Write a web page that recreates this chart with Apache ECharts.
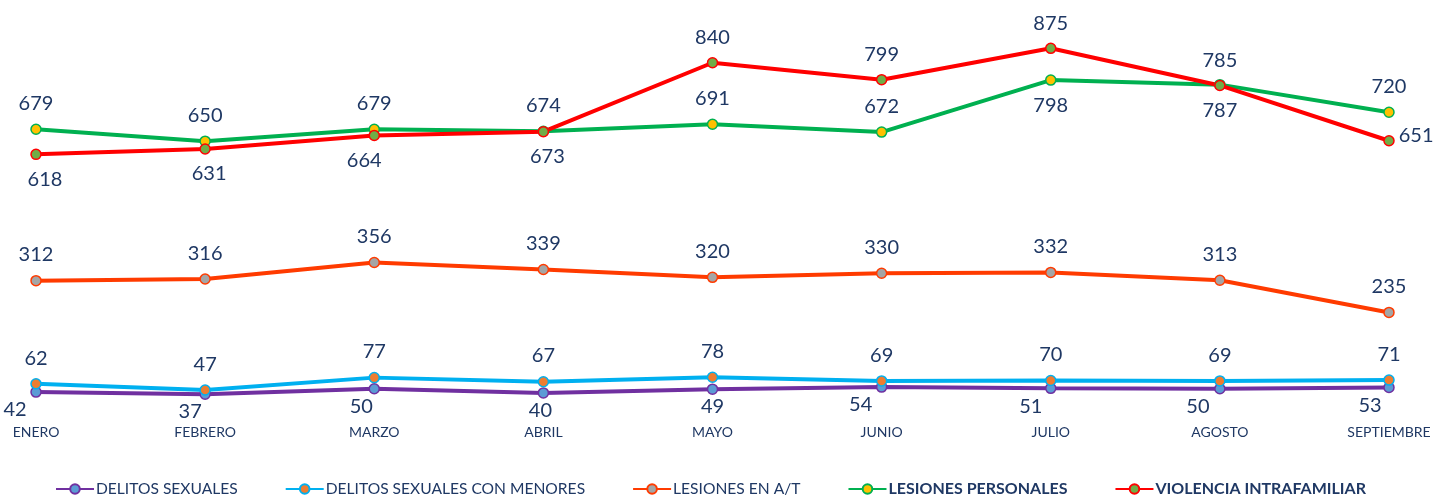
<!DOCTYPE html>
<html>
<head>
<meta charset="utf-8">
<script src="https://cdn.jsdelivr.net/npm/echarts@6/dist/echarts.min.js"></script>
<style>
html,body{margin:0;padding:0;background:#fff;}
#chart{width:1435px;height:496px;}
</style>
</head>
<body>
<div id="chart"></div>
<script>
// ---- data ----
var categories = ['ENERO','FEBRERO','MARZO','ABRIL','MAYO','JUNIO','JULIO','AGOSTO','SEPTIEMBRE'];
var delitosSexuales = [42,37,50,40,49,54,51,50,53];
var delitosMenores = [62,47,77,67,78,69,70,69,71];
var lesionesAT = [312,316,356,339,320,330,332,313,235];
var lesionesPersonales = [679,650,679,674,691,672,798,787,720];
var violencia = [618,631,664,673,840,799,875,785,651];
var seriesNames = ['DELITOS SEXUALES','DELITOS SEXUALES CON MENORES','LESIONES EN A/T','LESIONES PERSONALES','VIOLENCIA INTRAFAMILIAR'];

// ---- label layout (style, not data) ----
var dsPos = ['bottom','bottom','bottom','bottom','bottom','bottom','bottom','bottom','bottom'];
var dsOffX = [-21,-15,-13,-3,0,-21,-20,-22,-19];
var lpPos = ['top','top','top','top','top','top','bottom','bottom','top'];
var viPos = ['bottom','bottom','bottom','bottom','top','top','top','top','right'];
var viOffX = [9,4,-10,4,0,0,0,0,0];

var textColor = '#1F3864';
var labelFont = {fontFamily:'Lato', fontSize:20, color:textColor};

function build(values, positions, offX, dist) {
  return values.map(function(v, i){
    var pos = positions ? positions[i] : 'top';
    var lab = {position: pos, distance: dist};
    if (offX) lab.offset = [offX[i], 0];
    if (pos === 'right') { lab.distance = 4; lab.offset = [0, -5]; }
    return {value: v, label: lab};
  });
}

function mk(name, data, lineColor, markerColor) {
  return {
    name: name, type: 'line', data: data,
    smooth: false,
    symbol: 'circle', symbolSize: 10,
    lineStyle: {color: lineColor, width: 4},
    itemStyle: {color: markerColor, borderColor: lineColor, borderWidth: 1.5},
    label: Object.assign({show: true}, labelFont),
    emphasis: {disabled: true},
    animation: false
  };
}

var chart = echarts.init(document.getElementById('chart'));
chart.setOption({
  backgroundColor: '#ffffff',
  grid: {left: 36, right: 46, top: 38, bottom: 86.6},
  xAxis: {
    type: 'category', data: categories, boundaryGap: false,
    axisLine: {show: false}, axisTick: {show: false}, splitLine: {show: false},
    axisLabel: {color: textColor, fontFamily: 'Lato', fontSize: 14, margin: 16, interval: 0}
  },
  yAxis: {type: 'value', min: 0, max: 900, show: false, splitLine: {show: false}},
  legend: {
    top: 476, left: 50, itemGap: 47, itemWidth: 38, itemHeight: 12,
    data: seriesNames,
    textStyle: {color: textColor, fontFamily: 'Lato', fontSize: 15.6, padding: [0,0,0,-3],
      rich: {b: {fontWeight: 'bold', color: textColor, fontFamily: 'Lato', fontSize: 16}}},
    formatter: function(n){ return (n === 'LESIONES PERSONALES' || n === 'VIOLENCIA INTRAFAMILIAR') ? '{b|' + n + '}' : n; }
  },
  series: [
    mk(seriesNames[0], build(delitosSexuales, dsPos, dsOffX, 2), '#7030A0', '#5B9BD5'),
    mk(seriesNames[1], build(delitosMenores, null, null, 10), '#00B0F0', '#ED7D31'),
    mk(seriesNames[2], build(lesionesAT, null, null, 10), '#FF3B00', '#A5A5A5'),
    mk(seriesNames[3], build(lesionesPersonales, lpPos, null, 10), '#00B050', '#FFC000'),
    mk(seriesNames[4], build(violencia, viPos, viOffX, 9), '#FF0000', '#70AD47')
  ]
});
</script>
</body>
</html>
